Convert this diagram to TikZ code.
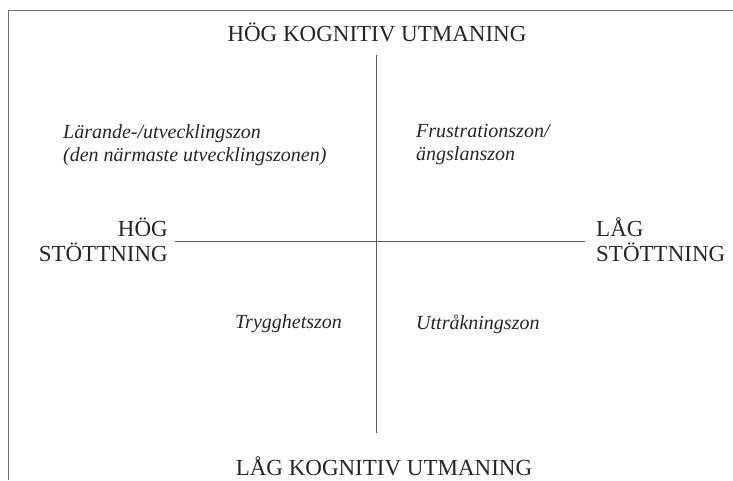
\documentclass[tikz,border=0pt]{standalone}
\usepackage{fontspec}
\setmainfont{Liberation Serif}
\begin{document}
\begin{tikzpicture}[x=1pt,y=-1pt,
  lbl/.style={font=\fontsize{23}{25}\selectfont, inner sep=0pt, text=black!85},
  zone/.style={font=\fontsize{20}{23}\selectfont\itshape, inner sep=0pt, align=left, text=black!85},
  axis/.style={draw=black!65, line width=0.9pt},
  frame/.style={draw=black!55, line width=0.9pt}]
\useasboundingbox (0,0) rectangle (733,480);
\fill[white] (0,0) rectangle (733,480);
% frame
\coordinate (fb) at (8,480);
\coordinate (ftl) at (8,10);
\coordinate (ftr) at (733,10);
\draw[frame] (fb) -- (ftl) -- (ftr);
% axes
\coordinate (vt) at (376,55);
\coordinate (vb) at (376,433);
\coordinate (hl) at (175,241);
\coordinate (hr) at (585,241);
\draw[axis] (vt) -- (vb);
\draw[axis] (hl) -- (hr);
% labels
\node[lbl] (top) at (377,32) {HÖG KOGNITIV UTMANING};
\node[lbl] (bot) at (384,466) {LÅG KOGNITIV UTMANING};
\node[lbl, anchor=east, align=right] (left) at (168,240) {HÖG\\STÖTTNING};
\node[lbl, anchor=west, align=left] (right) at (596,240) {LÅG\\STÖTTNING};
% zones
\node[zone, anchor=west] (z1) at (63,145) {Lärande-/utvecklingszon\\(den närmaste utvecklingszonen)};
\node[zone, anchor=west] (z2) at (416,145) {Frustrationszon/\\ängslanszon};
\node[zone, anchor=west] (z3) at (235,324) {Trygghetszon};
\node[zone, anchor=west] (z4) at (416,324) {Uttråkningszon};
\end{tikzpicture}
\end{document}
